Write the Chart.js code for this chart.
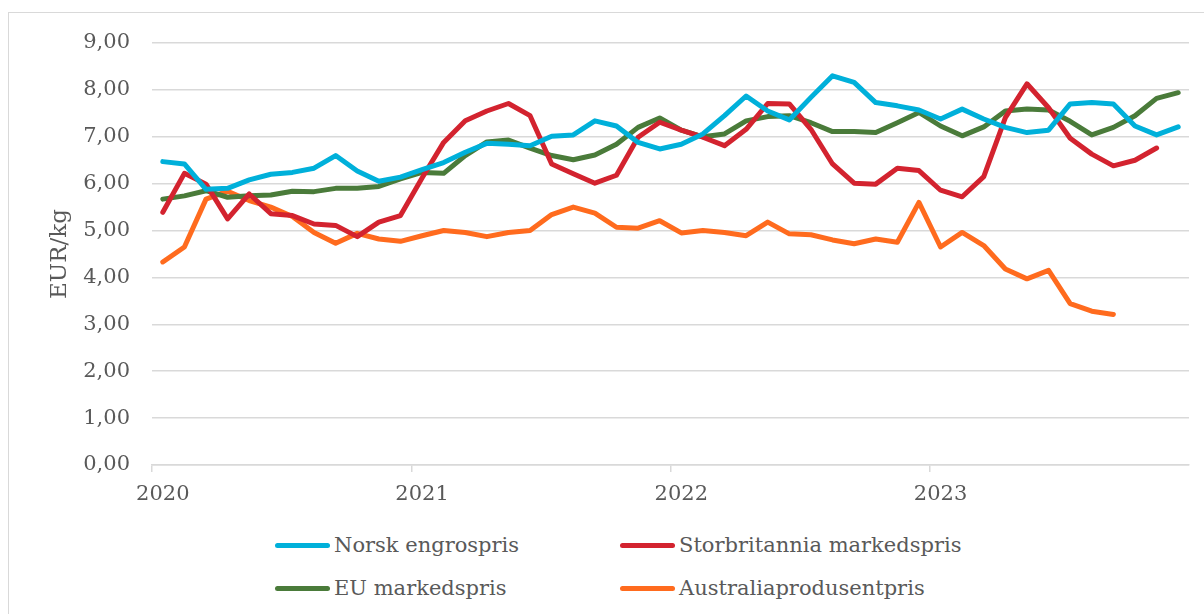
<!DOCTYPE html>
<html>
<head>
<meta charset="utf-8">
<script src="https://cdn.jsdelivr.net/npm/chart.js@4.4.1/dist/chart.umd.min.js"></script>
<style>
    html, body { margin: 0; padding: 0; background: #fff; }
    body { width: 1204px; height: 614px; position: relative; overflow: hidden; }
    #frame { position: absolute; left: 8px; top: 12px; width: 1300px; height: 700px; border: 1px solid #d9d9d9; }
    #wrap { position: absolute; left: 0; top: 0; width: 1204px; height: 520px; }
    .leg { position: absolute; display: flex; align-items: center; height: 30px;
        font-family: 'DejaVu Serif', serif; font-size: 21px; color: #595959; white-space: nowrap; }
    .leg span.mark { display: inline-block; width: 55px; height: 5px; border-radius: 3px; margin-right: 4px; }
</style>
</head>
<body>
<div id="frame"></div>
<div id="wrap"><canvas id="chart" width="1204" height="520"></canvas></div>
<div id="legend"></div>
<script>
    'use strict';

    const years = ['2020', '2021', '2022', '2023'];
    const monthNums = ['01', '02', '03', '04', '05', '06', '07', '08', '09', '10', '11', '12'];
    const yTicks = [0, 1, 2, 3, 4, 5, 6, 7, 8, 9];

    const norsk = [6.47, 6.42, 5.88, 5.90, 6.08, 6.20, 6.24, 6.33, 6.60, 6.27, 6.05, 6.14,
        6.30, 6.45, 6.67, 6.86, 6.84, 6.81, 7.01, 7.04, 7.34, 7.23, 6.88, 6.74,
        6.84, 7.06, 7.45, 7.87, 7.55, 7.36, 7.84, 8.30, 8.16, 7.73, 7.66, 7.57,
        7.38, 7.59, 7.38, 7.20, 7.09, 7.14, 7.70, 7.73, 7.70, 7.23, 7.04, 7.21];
    const storbritannia = [5.39, 6.22, 5.99, 5.25, 5.78, 5.36, 5.32, 5.14, 5.11, 4.87, 5.18, 5.32,
        6.12, 6.88, 7.34, 7.55, 7.71, 7.45, 6.42, 6.21, 6.01, 6.18, 6.99, 7.31,
        7.14, 6.99, 6.81, 7.16, 7.71, 7.70, 7.16, 6.42, 6.01, 5.99, 6.33, 6.28,
        5.86, 5.72, 6.15, 7.41, 8.13, 7.62, 6.97, 6.63, 6.38, 6.50, 6.76, null];
    const eu = [5.67, 5.74, 5.85, 5.71, 5.74, 5.76, 5.84, 5.83, 5.90, 5.90, 5.94, 6.10,
        6.24, 6.22, 6.60, 6.89, 6.93, 6.76, 6.60, 6.51, 6.61, 6.84, 7.20, 7.40,
        7.14, 7.00, 7.06, 7.34, 7.43, 7.45, 7.30, 7.11, 7.11, 7.09, 7.30, 7.52,
        7.23, 7.02, 7.21, 7.55, 7.59, 7.57, 7.33, 7.04, 7.20, 7.45, 7.82, 7.94];
    const australia = [4.33, 4.65, 5.67, 5.84, 5.64, 5.50, 5.30, 4.96, 4.73, 4.94, 4.82, 4.77,
        4.89, 5.00, 4.96, 4.87, 4.96, 5.00, 5.34, 5.50, 5.37, 5.07, 5.05, 5.21,
        4.95, 5.00, 4.96, 4.89, 5.18, 4.93, 4.91, 4.80, 4.72, 4.82, 4.75, 5.60,
        4.65, 4.96, 4.68, 4.18, 3.97, 4.15, 3.44, 3.28, 3.21, null, null, null];

    const months = years.flatMap(y => monthNums.map(m => y + '-' + m));

    const gridColor = '#d9d9d9';
    const textColor = '#595959';

    let line = function (label, data, color) {
        return {
            label: label,
            data: data,
            borderColor: color,
            backgroundColor: color,
            borderWidth: 5,
            borderJoinStyle: 'round',
            borderCapStyle: 'round',
            pointRadius: 0,
            tension: 0,
            spanGaps: false
        };
    };

    const datasets = [
        line('Norsk engrospris', norsk, '#00b0da'),
        line('Storbritannia markedspris', storbritannia, '#d3232f'),
        line('EU markedspris', eu, '#4a7b3a'),
        line('Australiaprodusentpris', australia, '#ff6b1e')
    ];

    const chart = new Chart(document.getElementById('chart'), {
        type: 'line',
        data: { labels: months, datasets: datasets },
        options: {
            responsive: false,
            animation: false,
            layout: { padding: { top: 43, right: 15, left: 0, bottom: 0 } },
            plugins: { legend: { display: false }, tooltip: { enabled: false } },
            scales: {
                x: {
                    type: 'category',
                    offset: true,
                    afterFit: function (scale) { scale.height = 55; },
                    border: { display: true, color: gridColor, width: 1.5 },
                    grid: {
                        offset: true,
                        drawOnChartArea: false,
                        drawTicks: true,
                        tickLength: 7,
                        lineWidth: 1.5,
                        tickColor: ctx => (ctx.index % 12 === 0 ? gridColor : 'rgba(0,0,0,0)')
                    },
                    ticks: {
                        autoSkip: false,
                        maxRotation: 0,
                        padding: 10,
                        color: textColor,
                        font: { family: 'DejaVu Serif', size: 21 },
                        callback: (v, i) => (i % 12 === 0 ? years[i / 12] : '')
                    }
                },
                y: {
                    min: yTicks[0],
                    max: yTicks[yTicks.length - 1],
                    afterFit: function (scale) { scale.width = 152; },
                    border: { display: false },
                    grid: { color: gridColor, lineWidth: 1.5, drawTicks: false },
                    ticks: {
                        stepSize: 1,
                        padding: 22,
                        color: textColor,
                        font: { family: 'DejaVu Serif', size: 21 },
                        callback: v => v.toFixed(2).replace('.', ',')
                    },
                    title: {
                        display: true,
                        text: 'EUR/kg',
                        color: textColor,
                        padding: { top: 46, bottom: 0 },
                        font: { family: 'DejaVu Serif', size: 23 }
                    }
                }
            }
        }
    });

    // legend in two columns, as in the original
    const legendSpots = [[275, 530], [620, 530], [275, 573], [620, 573]];
    const legendOrder = [0, 1, 2, 3];
    let legend = document.getElementById('legend');
    legendOrder.forEach(function (di, k) {
        let ds = chart.data.datasets[di];
        let item = document.createElement('div');
        item.className = 'leg';
        item.style.left = legendSpots[k][0] + 'px';
        item.style.top = legendSpots[k][1] + 'px';
        let mark = document.createElement('span');
        mark.className = 'mark';
        mark.style.background = ds.borderColor;
        item.appendChild(mark);
        item.appendChild(document.createTextNode(ds.label));
        legend.appendChild(item);
    });
</script>
</body>
</html>
